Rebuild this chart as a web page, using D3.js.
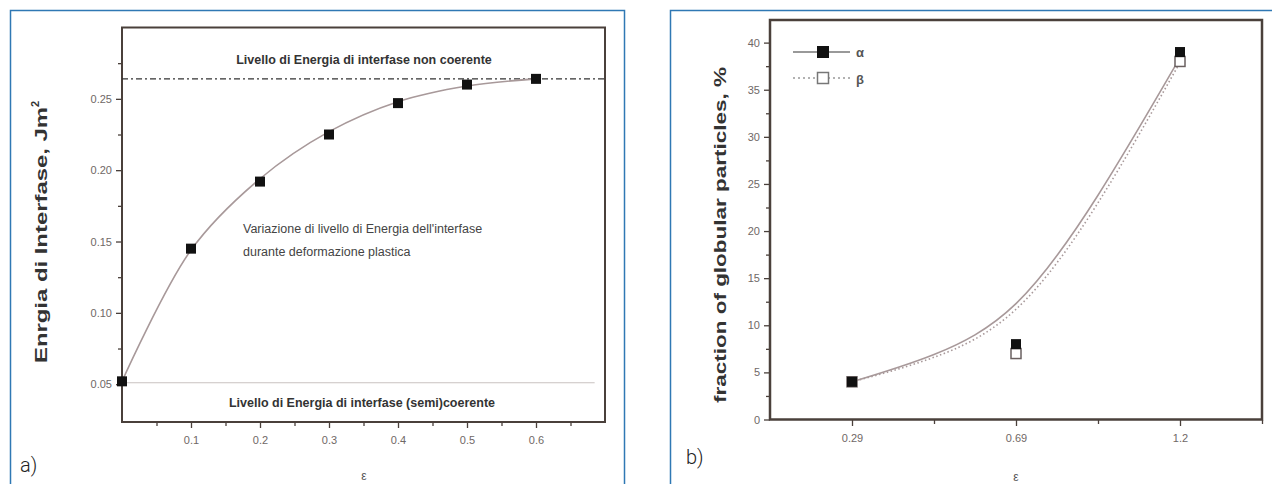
<!DOCTYPE html>
<html>
<head>
<meta charset="utf-8">
<script src="https://cdn.jsdelivr.net/npm/d3@7"></script>
<style>
body { margin: 0; background: #fff; }
svg { display: block; font-family: "Liberation Sans", Arial, sans-serif; }
</style>
</head>
<body>
<div id="chart"></div>
<script>
// panel a) data
const strainA = [0, 0.1, 0.2, 0.3, 0.4, 0.5, 0.6]
const energyA = [0.052, 0.145, 0.192, 0.225, 0.247, 0.26, 0.264]
const fitA = [0.052, 0.144, 0.194, 0.227, 0.248, 0.259, 0.264]
const incoherentLevel = 0.264
const coherentLevel = 0.051
const xTicksA = [0.1, 0.2, 0.3, 0.4, 0.5, 0.6]
const yTicksA = [0.05, 0.10, 0.15, 0.20, 0.25]

// panel b) data
const strainB = ['0.29', '0.69', '1.2']
const alphaB = [4, 8, 39]
const betaB = [4, 7, 38]
const fitPosB = [1, 1.5, 2, 2.5, 3]
const fitAlphaB = [4, 6.9, 12.3, 23.8, 38.4]
const fitBetaB = [4, 6.6, 11.7, 23.0, 37.9]
const yTicksB = [0, 5, 10, 15, 20, 25, 30, 35, 40]

const W = 1272, H = 484
const frameCol = '#4a403b'
const curveCol = '#a8999a'
const tickCol = '#6f6866'
const font = '"Liberation Sans", Arial, sans-serif'

let svg = d3.select('#chart').append('svg').attr('width', W).attr('height', H)

// blue panel frames
svg.append('rect').attr('x', 10.5).attr('y', 10.5).attr('width', 614).attr('height', 490)
	.attr('fill', 'none').attr('stroke', '#2f78b4').attr('stroke-width', 1.5)
svg.append('rect').attr('x', 670.5).attr('y', 10.5).attr('width', 620).attr('height', 490)
	.attr('fill', 'none').attr('stroke', '#2f78b4').attr('stroke-width', 1.5)

let styleAxis = (g, labels) => {
	g.attr('font-family', font)
	g.select('.domain').remove()
	g.selectAll('line').attr('stroke', frameCol).attr('stroke-width', 1.3)
	g.selectAll('text').attr('fill', tickCol).attr('font-size', 11)
	if (!labels) g.selectAll('text').remove()
}

// ---------- panel a ----------
let xA = d3.scaleLinear().domain([0, 0.7]).range([122, 605])
let yA = d3.scaleLinear().domain([0.0235, 0.3]).range([422, 27.5])

let gA = svg.append('g')

gA.append('g').attr('transform', 'translate(0,422)')
	.call(d3.axisBottom(xA).tickValues(xTicksA).tickSize(6).tickPadding(8).tickFormat(d3.format('.1f')))
	.call(g => styleAxis(g, true))
gA.append('g').attr('transform', 'translate(0,422)')
	.call(d3.axisBottom(xA).tickValues(d3.range(0.05, 0.7, 0.1)).tickSize(4).tickFormat(''))
	.call(g => styleAxis(g, false))
gA.append('g').attr('transform', 'translate(122,0)')
	.call(d3.axisLeft(yA).tickValues(yTicksA).tickSize(6).tickPadding(4).tickFormat(d3.format('.2f')))
	.call(g => styleAxis(g, true))
gA.append('g').attr('transform', 'translate(122,0)')
	.call(d3.axisLeft(yA).tickValues([0.075, 0.125, 0.175, 0.225, 0.275]).tickSize(4).tickFormat(''))
	.call(g => styleAxis(g, false))

gA.append('rect').attr('x', xA(0)).attr('y', yA(0.3))
	.attr('width', xA(0.7) - xA(0)).attr('height', yA(0.0235) - yA(0.3))
	.attr('fill', 'none').attr('stroke', frameCol).attr('stroke-width', 2)

// reference levels
gA.append('line').attr('x1', xA(0)).attr('x2', xA(0.7))
	.attr('y1', yA(incoherentLevel)).attr('y2', yA(incoherentLevel))
	.attr('stroke', '#333').attr('stroke-width', 1.2).attr('stroke-dasharray', '6,3,2,3')
gA.append('line').attr('x1', xA(0)).attr('x2', xA(0.685))
	.attr('y1', yA(coherentLevel)).attr('y2', yA(coherentLevel))
	.attr('stroke', '#c9c2c0').attr('stroke-width', 1)

// fitted curve
gA.append('path')
	.datum(strainA.map((s, i) => [s, fitA[i]]))
	.attr('fill', 'none').attr('stroke', curveCol).attr('stroke-width', 1.6)
	.attr('d', d3.line().x(d => xA(d[0])).y(d => yA(d[1])).curve(d3.curveCatmullRom))

gA.selectAll('rect.pt').data(strainA).enter().append('rect').attr('class', 'pt')
	.attr('x', d => xA(d) - 5).attr('y', (d, i) => yA(energyA[i]) - 5)
	.attr('width', 10).attr('height', 10).attr('fill', '#111')

gA.append('text').attr('x', 364).attr('y', 64).attr('text-anchor', 'middle')
	.attr('font-size', 12.5).attr('font-weight', 'bold').attr('fill', '#333')
	.text('Livello di Energia di interfase non coerente')
gA.append('text').attr('x', 362).attr('y', 407).attr('text-anchor', 'middle')
	.attr('font-size', 12.5).attr('font-weight', 'bold').attr('fill', '#333')
	.text('Livello di Energia di interfase (semi)coerente')
gA.append('text').attr('x', 243).attr('y', 233)
	.attr('font-size', 12.5).attr('fill', '#444')
	.text("Variazione di livello di Energia dell'interfase")
gA.append('text').attr('x', 243).attr('y', 256)
	.attr('font-size', 12.5).attr('fill', '#444')
	.text('durante deformazione plastica')

let yLabA = gA.append('text').attr('transform', 'translate(47,363) rotate(-90)')
	.attr('font-size', 17).attr('font-weight', 'bold').attr('fill', '#333')
yLabA.append('tspan').attr('textLength', 256).attr('lengthAdjust', 'spacingAndGlyphs').text('Enrgia di Interfase, Jm')
yLabA.append('tspan').attr('dy', -8).attr('font-size', 11).text('2')

gA.append('text').attr('x', 364).attr('y', 480).attr('text-anchor', 'middle')
	.attr('font-size', 12).attr('fill', '#555').text('ε')
gA.append('text').attr('x', 20).attr('y', 472)
	.attr('font-size', 20).attr('fill', '#222').attr('font-family', 'Roboto, sans-serif').attr('font-weight', 300).text('a)')

// ---------- panel b ----------
let xB = d3.scaleLinear().domain([0.5, 3.5]).range([770, 1262])
let yB = d3.scaleLinear().domain([0, 42.4]).range([419.5, 20])

let gB = svg.append('g')

gB.append('g').attr('transform', 'translate(0,420)')
	.call(d3.axisBottom(xB).tickValues([1, 2, 3]).tickSize(6).tickPadding(8).tickFormat(d => strainB[d - 1]))
	.call(g => styleAxis(g, true))
gB.append('g').attr('transform', 'translate(0,420)')
	.call(d3.axisBottom(xB).tickValues([1.5, 2.5, 3.5]).tickSize(4).tickFormat(''))
	.call(g => styleAxis(g, false))
gB.append('g').attr('transform', 'translate(770,0)')
	.call(d3.axisLeft(yB).tickValues(yTicksB).tickSize(6).tickPadding(4))
	.call(g => styleAxis(g, true))
gB.append('g').attr('transform', 'translate(770,0)')
	.call(d3.axisLeft(yB).tickValues(d3.range(2.5, 42, 5)).tickSize(4).tickFormat(''))
	.call(g => styleAxis(g, false))

gB.append('rect').attr('x', xB(0.5)).attr('y', yB(42.4))
	.attr('width', xB(3.5) - xB(0.5)).attr('height', yB(0) - yB(42.4))
	.attr('fill', 'none').attr('stroke', frameCol).attr('stroke-width', 2.5)

let lineB = d3.line().x(d => xB(d[0])).y(d => yB(d[1])).curve(d3.curveNatural)
gB.append('path').datum(fitPosB.map((p, i) => [p, fitAlphaB[i]]))
	.attr('fill', 'none').attr('stroke', curveCol).attr('stroke-width', 1.6).attr('d', lineB)
gB.append('path').datum(fitPosB.map((p, i) => [p, fitBetaB[i]]))
	.attr('fill', 'none').attr('stroke', curveCol).attr('stroke-width', 1.6)
	.attr('stroke-dasharray', '1.5,2.5').attr('d', lineB)

gB.selectAll('rect.b').data(betaB).enter().append('rect').attr('class', 'b')
	.attr('x', (d, i) => xB(i + 1) - 5).attr('y', d => yB(d) - 5)
	.attr('width', 10).attr('height', 10).attr('fill', '#fff').attr('stroke', '#6a6060').attr('stroke-width', 1.5)
gB.selectAll('rect.a').data(alphaB).enter().append('rect').attr('class', 'a')
	.attr('x', (d, i) => xB(i + 1) - 5).attr('y', d => yB(d) - 5)
	.attr('width', 10).attr('height', 10).attr('fill', '#111')

// legend
gB.append('line').attr('x1', 793).attr('x2', 850).attr('y1', 52).attr('y2', 52)
	.attr('stroke', '#777').attr('stroke-width', 1.4)
gB.append('rect').attr('x', 817).attr('y', 46).attr('width', 12).attr('height', 12).attr('fill', '#111')
gB.append('text').attr('x', 856).attr('y', 57).attr('font-size', 13).attr('font-weight', 'bold').attr('fill', '#555').text('α')
gB.append('line').attr('x1', 793).attr('x2', 850).attr('y1', 78).attr('y2', 78)
	.attr('stroke', '#999').attr('stroke-width', 1.4).attr('stroke-dasharray', '2,3')
gB.append('rect').attr('x', 817.5).attr('y', 72.5).attr('width', 11).attr('height', 11)
	.attr('fill', '#fff').attr('stroke', '#777').attr('stroke-width', 1.5)
gB.append('text').attr('x', 856).attr('y', 84).attr('font-size', 13).attr('font-weight', 'bold').attr('fill', '#555').text('β')

gB.append('text').attr('transform', 'translate(726,403) rotate(-90)')
	.attr('font-size', 17).attr('font-weight', 'bold').attr('fill', '#333')
	.attr('textLength', 336).attr('lengthAdjust', 'spacingAndGlyphs')
	.text('fraction of globular particles, %')

gB.append('text').attr('x', 1016).attr('y', 481).attr('text-anchor', 'middle')
	.attr('font-size', 12).attr('fill', '#555').text('ε')
gB.append('text').attr('x', 686).attr('y', 464)
	.attr('font-size', 20).attr('fill', '#222').attr('font-family', 'Roboto, sans-serif').attr('font-weight', 300).text('b)')
</script>
</body>
</html>
